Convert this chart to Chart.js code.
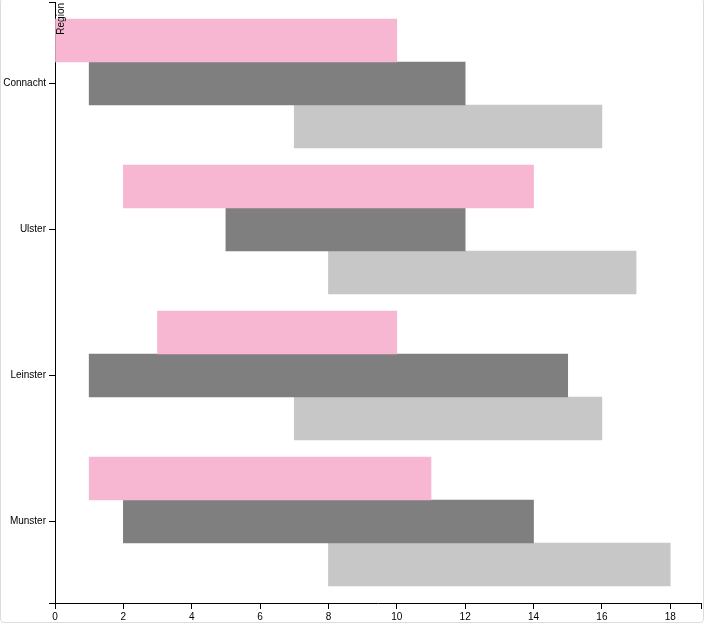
<!DOCTYPE html>
<html>
<head>
<meta charset="utf-8">
<script src="https://cdn.jsdelivr.net/npm/chart.js@4.4.1/dist/chart.umd.min.js"></script>
<style>
    html, body { margin: 0; padding: 0; background: #fff; overflow: hidden; }
    .frame {
        position: absolute; left: 0; top: -2px; width: 704px; height: 625px;
        box-sizing: border-box; border: 1px solid #dcdcdc; border-radius: 4px;
    }
    #chart { position: absolute; left: 0; top: 0; }
</style>
</head>
<body>
<div class="frame"></div>
<canvas id="chart" width="706" height="625"></canvas>
<script>
// Chart data
const regions = ['Connacht', 'Ulster', 'Leinster', 'Munster'];
const pinkRanges = [[0, 10], [2, 14], [3, 10], [1, 11]];
const darkRanges = [[1, 12], [5, 12], [1, 15], [2, 14]];
const lightRanges = [[7, 16], [8, 17], [7, 16], [8, 18]];
const xTicks = [0, 2, 4, 6, 8, 10, 12, 14, 16, 18];
const xMax = 18.9;

// band padding around the first/last region (in region units)
const yPad = 0.5582;

function toPoints(ranges) {
    return ranges.map((r, i) => ({ x: r, y: i }));
}

// "Region" label drawn along the top of the y axis
const regionLabel = {
    id: 'regionLabel',
    afterDraw(chart) {
        const ctx = chart.ctx;
        ctx.save();
        ctx.translate(chart.chartArea.left + 9, chart.chartArea.top + 1);
        ctx.rotate(-Math.PI / 2);
        ctx.font = '10px "Liberation Sans", Arial, sans-serif';
        ctx.fillStyle = '#000';
        ctx.textAlign = 'right';
        ctx.textBaseline = 'alphabetic';
        ctx.fillText('Region', 0, 0);
        ctx.restore();
    }
};

const tickFont = { family: '"Liberation Sans", Arial, sans-serif', size: 10 };

new Chart(document.getElementById('chart'), {
    type: 'bar',
    data: {
        datasets: [{
            label: 'Series 1',
            data: toPoints(pinkRanges),
            backgroundColor: '#f7b6d2'
        }, {
            label: 'Series 2',
            data: toPoints(darkRanges),
            backgroundColor: '#7f7f7f'
        }, {
            label: 'Series 3',
            data: toPoints(lightRanges),
            backgroundColor: '#c7c7c7'
        }]
    },
    options: {
        indexAxis: 'y',
        responsive: false,
        animation: false,
        barThickness: 43,
        borderWidth: 0,
        layout: { padding: { top: 2, right: 5, bottom: 0, left: 0 } },
        plugins: {
            legend: { display: false },
            tooltip: { enabled: false }
        },
        scales: {
            x: {
                type: 'linear',
                position: 'bottom',
                min: 0,
                max: xMax,
                bounds: 'data',
                offset: false,
                afterBuildTicks: s => {
                    s.ticks = xTicks.concat([xMax]).map(v => ({ value: v }));
                },
                afterFit: s => {
                    s.height = 22;
                    s.paddingLeft = 0;
                    s.paddingRight = 0;
                },
                grid: {
                    offset: false,
                    drawOnChartArea: false,
                    drawTicks: true,
                    tickLength: 6,
                    color: '#000'
                },
                border: { display: true, color: '#000', width: 1 },
                ticks: {
                    font: tickFont,
                    color: '#000',
                    padding: 2,
                    maxRotation: 0,
                    autoSkip: false,
                    callback: v => (xTicks.includes(v) ? String(v) : '')
                }
            },
            y: {
                type: 'linear',
                position: 'left',
                reverse: true,
                min: -yPad,
                max: regions.length - 1 + yPad,
                bounds: 'data',
                offset: false,
                afterBuildTicks: s => {
                    const vals = [-yPad].concat(regions.map((r, i) => i), [regions.length - 1 + yPad]);
                    s.ticks = vals.map(v => ({ value: v }));
                },
                afterFit: s => {
                    s.width = 55;
                    s.paddingTop = 0;
                    s.paddingBottom = 0;
                },
                grid: {
                    offset: false,
                    drawOnChartArea: false,
                    drawTicks: true,
                    tickLength: 6,
                    color: '#000'
                },
                border: { display: true, color: '#000', width: 1 },
                ticks: {
                    font: tickFont,
                    color: '#000',
                    padding: 3,
                    autoSkip: false,
                    callback: v => (Number.isInteger(v) && regions[v] !== undefined ? regions[v] : '')
                }
            }
        }
    },
    plugins: [regionLabel]
});
</script>
</body>
</html>
